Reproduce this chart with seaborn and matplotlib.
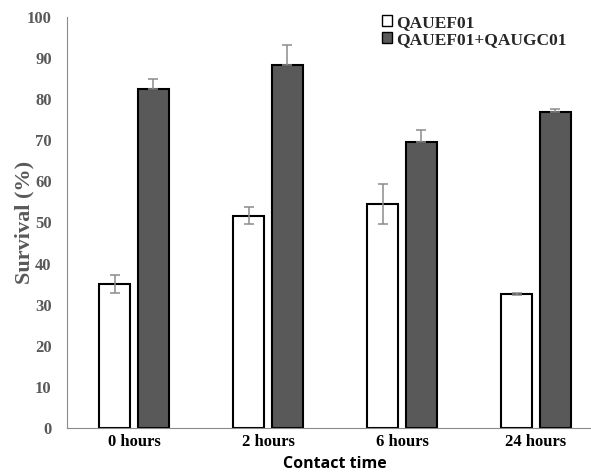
import matplotlib
matplotlib.use("Agg")
import matplotlib.pyplot as plt
import seaborn as sns
import pandas as pd
from matplotlib.patches import Patch

# Survival data (mean ± error) per contact time
categories = ["0 hours", "2 hours", "6 hours", "24 hours"]
series_names = ["QAUEF01", "QAUEF01+QAUGC01"]
single_mean = [35.1, 51.7, 54.5, 32.6]
single_err = [2.2, 2.0, 4.8, 0.3]
combo_mean = [82.5, 88.2, 69.6, 77.0]
combo_err = [2.4, 5.1, 2.8, 0.5]
y_ticks = [0, 10, 20, 30, 40, 50, 60, 70, 80, 90, 100]

df = pd.DataFrame({
    "time": categories * 2,
    "group": [series_names[0]] * 4 + [series_names[1]] * 4,
    "survival": single_mean + combo_mean,
})
errors = [single_err, combo_err]
colors = {series_names[0]: "white", series_names[1]: "#595959"}

sns.set_theme(style="white")
plt.rcParams["font.family"] = ["Liberation Serif", "DejaVu Serif"]

fig = plt.figure(figsize=(5.91, 4.74), dpi=100)
ax = fig.add_axes([67 / 591, 46 / 474, 536 / 591, 411 / 474])

sns.barplot(data=df, x="time", y="survival", hue="group", order=categories,
            hue_order=series_names, palette=colors, edgecolor="black",
            linewidth=1.5, width=0.57, gap=0.19, errorbar=None, legend=False,
            ax=ax)

# Error bars centred on each bar; the dark series shows only the upper arm
for i, (cont, err) in enumerate(zip(ax.containers, errors)):
    for bar, e in zip(cont, err):
        xc = bar.get_x() + bar.get_width() / 2
        yerr = [[e], [e]] if i == 0 else [[0], [e]]
        ax.errorbar(xc, bar.get_height(), yerr=yerr, fmt="none",
                    ecolor="#8c8c8c", elinewidth=1.1, capsize=3.3,
                    capthick=1.1, zorder=5)

ax.set_xlim(-0.5, 3.5)
ax.set_ylim(0, 100)
ax.set_yticks(y_ticks)
ax.set_yticklabels([str(t) for t in y_ticks])

for side in ["top", "right"]:
    ax.spines[side].set_visible(False)
for side in ["left", "bottom"]:
    ax.spines[side].set_color("#8a8a8a")
    ax.spines[side].set_linewidth(0.8)

ax.tick_params(axis="both", length=0)
ax.tick_params(axis="y", pad=11, labelsize=12, labelcolor="#595959")
ax.tick_params(axis="x", pad=4, labelsize=12, labelcolor="black")
for lbl in ax.get_xticklabels() + ax.get_yticklabels():
    lbl.set_fontweight("bold")

ax.set_ylabel("Survival (%)", fontsize=16, fontweight="bold", color="#595959")
ax.yaxis.set_label_coords(-0.06, 0.5)
ax.set_xlabel("Contact time", fontsize=11.5, fontweight="bold", color="black",
              family=["Open Sans", "DejaVu Sans"])
ax.xaxis.set_label_coords(0.5, -0.068)

handles = [Patch(facecolor=colors[n], edgecolor="black", linewidth=1.0, label=n)
           for n in series_names]
leg = fig.legend(handles=handles, loc="upper left",
                 bbox_to_anchor=(382 / 591, 1 - 15 / 474), frameon=False,
                 borderpad=0, borderaxespad=0, handlelength=0.6,
                 handleheight=0.6, handletextpad=0.2, labelspacing=0.05,
                 prop={"weight": "bold", "size": 12.5})

fig.savefig("out.png", dpi=100)
